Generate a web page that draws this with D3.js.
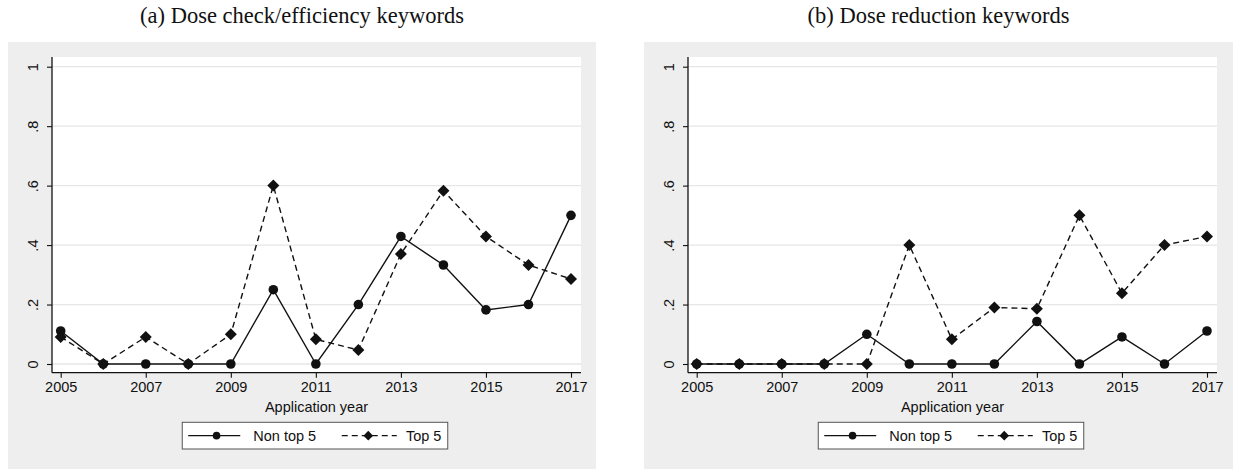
<!DOCTYPE html>
<html>
<head>
<meta charset="utf-8">
<script src="https://cdn.jsdelivr.net/npm/d3@7/dist/d3.min.js"></script>
<style>
  html, body { margin: 0; padding: 0; background: #ffffff; }
  svg { display: block; }
</style>
</head>
<body>
<svg id="chart" width="1233" height="469"></svg>
<script>
const years = [2005, 2006, 2007, 2008, 2009, 2010, 2011, 2012, 2013, 2014, 2015, 2016, 2017];
const xTicks = [2005, 2007, 2009, 2011, 2013, 2015, 2017];
const yTicks = [0, 0.2, 0.4, 0.6, 0.8, 1];
const yTickLabels = ['0', '.2', '.4', '.6', '.8', '1'];
const seriesNames = ['Non top 5', 'Top 5'];
const panelTitles = ['(a) Dose check/efficiency keywords', '(b) Dose reduction keywords'];

// panel (a)
const checkNonTop5 = [0.111, 0, 0, 0, 0, 0.25, 0, 0.2, 0.429, 0.333, 0.182, 0.2, 0.5];
const checkTop5 = [0.091, 0, 0.091, 0, 0.1, 0.6, 0.083, 0.047, 0.37, 0.583, 0.429, 0.333, 0.286];
// panel (b)
const reductionNonTop5 = [0, 0, 0, 0, 0.1, 0, 0, 0, 0.143, 0, 0.091, 0, 0.111];
const reductionTop5 = [0, 0, 0, 0, 0, 0.4, 0.083, 0.19, 0.186, 0.5, 0.238, 0.4, 0.429];

const svg = d3.select('#chart');
const BG = '#eeeeee';
const GRID = '#e6e6e6';
const INK = '#111111';
const FONT = '"Liberation Sans", Arial, sans-serif';
const FS = 14.5;

const panels = [
  { x0: 8, width: 588, title: panelTitles[0], data: [checkNonTop5, checkTop5] },
  { x0: 644, width: 589, title: panelTitles[1], data: [reductionNonTop5, reductionTop5] },
];

function diamond(s) {
  return `M0,${-s}L${s},0L0,${s}L${-s},0Z`;
}

panels.forEach(p => {
  const g = svg.append('g').attr('transform', `translate(${p.x0},0)`);
  const gy0 = 42;

  // title above the grey region
  g.append('text')
    .attr('x', p.width / 2)
    .attr('y', 23)
    .attr('text-anchor', 'middle')
    .attr('font-family', '"Liberation Serif", "Times New Roman", serif')
    .attr('font-size', 22.5)
    .attr('fill', INK)
    .text(p.title);

  g.append('rect')
    .attr('x', 0).attr('y', gy0)
    .attr('width', p.width).attr('height', 469 - gy0)
    .attr('fill', BG);

  const plot = { left: 44, right: 573, top: 57, bottom: 372.7 };
  g.append('rect')
    .attr('x', plot.left).attr('y', plot.top)
    .attr('width', plot.right - plot.left)
    .attr('height', plot.bottom - plot.top)
    .attr('fill', '#ffffff');

  const x = d3.scaleLinear().domain([2005, 2017]).range([plot.left + 8.7, plot.right - 10]);
  const y = d3.scaleLinear().domain([0, 1]).range([364, 66.7]);

  // gridlines
  g.append('g').selectAll('line').data(yTicks).join('line')
    .attr('x1', plot.left).attr('x2', plot.right)
    .attr('y1', d => y(d)).attr('y2', d => y(d))
    .attr('stroke', GRID).attr('stroke-width', 1.3);

  // y axis
  const yAxis = g.append('g')
    .attr('transform', `translate(${plot.left},0)`)
    .call(d3.axisLeft(y).tickValues(yTicks).tickSize(5).tickPadding(0).tickFormat(() => ''));
  yAxis.select('.domain').attr('d', `M0,${plot.top}V${plot.bottom}`).attr('stroke', INK).attr('stroke-width', 1.3);
  yAxis.selectAll('.tick line').attr('stroke', INK).attr('stroke-width', 1.1);
  yAxis.selectAll('.tick').append('text')
    .attr('transform', 'translate(-19,0) rotate(-90)')
    .attr('text-anchor', 'middle')
    .attr('dy', '0.35em')
    .attr('font-family', FONT).attr('font-size', FS)
    .attr('fill', INK)
    .text((d, i) => yTickLabels[i]);

  // x axis
  const xAxis = g.append('g')
    .attr('transform', `translate(0,${plot.bottom})`)
    .call(d3.axisBottom(x).tickValues(xTicks).tickSize(5).tickPadding(4).tickFormat(d3.format('d')));
  xAxis.select('.domain').attr('d', `M${plot.left},0H${plot.right}`).attr('stroke', INK).attr('stroke-width', 1.3);
  xAxis.selectAll('.tick line').attr('stroke', INK).attr('stroke-width', 1.1);
  xAxis.selectAll('.tick text')
    .attr('font-family', FONT).attr('font-size', FS).attr('fill', INK);

  g.append('text')
    .attr('x', (plot.left + plot.right) / 2)
    .attr('y', 411.5)
    .attr('text-anchor', 'middle')
    .attr('font-family', FONT).attr('font-size', FS).attr('fill', INK)
    .text('Application year');

  // series
  const line = d3.line().x((d, i) => x(years[i])).y(d => y(d));
  const styles = [
    { dash: null, marker: 'circle' },
    { dash: '6,4', marker: 'diamond' },
  ];

  p.data.forEach((vals, si) => {
    g.append('path')
      .datum(vals)
      .attr('d', line)
      .attr('fill', 'none')
      .attr('stroke', INK)
      .attr('stroke-width', 1.4)
      .attr('stroke-dasharray', styles[si].dash);
  });
  // markers drawn after both lines
  p.data.forEach((vals, si) => {
    const mg = g.append('g');
    if (styles[si].marker === 'circle') {
      mg.selectAll('circle').data(vals).join('circle')
        .attr('cx', (d, i) => x(years[i]))
        .attr('cy', d => y(d))
        .attr('r', 4.8)
        .attr('fill', INK);
    } else {
      mg.selectAll('path').data(vals).join('path')
        .attr('transform', (d, i) => `translate(${x(years[i])},${y(d)})`)
        .attr('d', diamond(6))
        .attr('fill', INK);
    }
  });

  // legend
  const lw = 265.5, lh = 26.7;
  const lx = (plot.left + plot.right) / 2 - lw / 2 - 1.5;
  const ly = 422.3;
  const leg = g.append('g').attr('transform', `translate(${lx},${ly})`);
  leg.append('rect')
    .attr('width', lw).attr('height', lh)
    .attr('fill', '#ffffff').attr('stroke', '#555').attr('stroke-width', 1);
  const cy = lh / 2;
  leg.append('line')
    .attr('x1', 6).attr('x2', 58).attr('y1', cy).attr('y2', cy)
    .attr('stroke', INK).attr('stroke-width', 1.3);
  leg.append('circle').attr('cx', 34.3).attr('cy', cy).attr('r', 3.8).attr('fill', INK);
  leg.append('text')
    .attr('x', 71).attr('y', cy).attr('dy', '0.35em')
    .attr('font-family', FONT).attr('font-size', FS).attr('fill', INK)
    .text(seriesNames[0]);
  leg.append('line')
    .attr('x1', 159.5).attr('x2', 214.5).attr('y1', cy).attr('y2', cy)
    .attr('stroke', INK).attr('stroke-width', 1.3).attr('stroke-dasharray', '6,4');
  leg.append('path')
    .attr('transform', `translate(186,${cy})`)
    .attr('d', diamond(4.8)).attr('fill', INK);
  leg.append('text')
    .attr('x', 223.7).attr('y', cy).attr('dy', '0.35em')
    .attr('font-family', FONT).attr('font-size', FS).attr('fill', INK)
    .text(seriesNames[1]);
});
</script>
</body>
</html>
